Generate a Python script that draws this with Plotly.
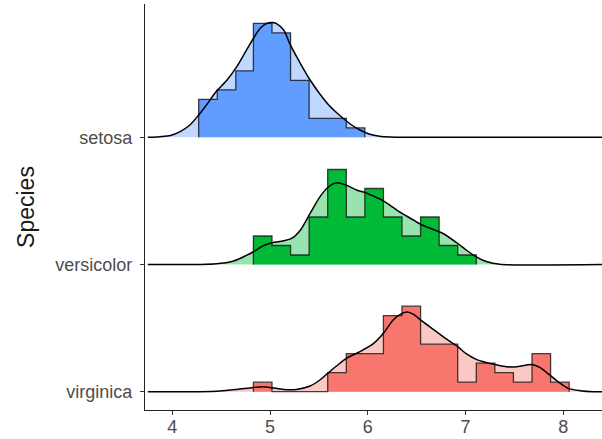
import plotly.graph_objects as go

# ---------------- data ----------------
species = ["setosa", "versicolor", "virginica"]
species_pos = [3, 2, 1]          # ridge baselines (top to bottom)

bin_edges = [4.27, 4.46, 4.65, 4.83, 5.02, 5.21, 5.40, 5.59, 5.78, 5.97,
             6.16, 6.35, 6.54, 6.73, 6.92, 7.11, 7.30, 7.49, 7.68, 7.87, 8.06]

setosa_counts = [4, 5, 7, 12, 11, 6, 2, 2, 1, 0, 0, 0, 0, 0, 0, 0, 0, 0, 0, 0]
versicolor_counts = [0, 0, 0, 3, 2, 1, 5, 10, 5, 8, 5, 3, 5, 2, 1, 0, 0, 0, 0, 0]
virginica_counts = [0, 0, 0, 1, 0, 0, 0, 2, 4, 4, 8, 9, 5, 5, 1, 3, 2, 1, 4, 1]

setosa_dx = [3.75, 3.87, 3.98, 4.08, 4.18, 4.27, 4.35, 4.45, 4.56, 4.66, 4.74, 4.83,
             4.90, 4.97, 5.03, 5.07, 5.14, 5.20, 5.31, 5.41, 5.51, 5.61, 5.72, 5.82,
             5.92, 6.02, 6.12, 6.23, 6.35, 8.40]
setosa_dy = [0, 0.07, 0.18, 0.6, 1.29, 2.35, 3.4, 4.81, 6.03, 7.44, 8.84, 10.42,
             11.47, 12.0, 12.07, 11.93, 11.29, 9.89, 7.79, 6.03, 4.56, 3.29, 2.24, 1.4,
             0.77, 0.32, 0.11, 0.03, 0, 0]

versicolor_dx = [3.75, 4.28, 4.45, 4.62, 4.73, 4.83, 4.93, 5.02, 5.14, 5.22, 5.31,
                 5.41, 5.51, 5.60, 5.68, 5.78, 5.89, 5.97, 6.06, 6.16, 6.26, 6.35,
                 6.47, 6.54, 6.67, 6.77, 6.92, 7.01, 7.11, 7.22, 7.35, 8.40]
versicolor_dy = [0, 0, 0.07, 0.35, 0.81, 1.34, 1.97, 2.28, 2.49, 2.74, 3.61,
                 5.37, 7.12, 8.18, 8.6, 8.35, 7.82, 7.58, 7.19, 6.7, 6.0, 5.37,
                 4.66, 4.24, 3.68, 3.26, 2.21, 1.5, 0.81, 0.28, 0.03, 0]

virginica_dx = [3.75, 4.28, 4.49, 4.66, 4.83, 4.93, 5.02, 5.14, 5.27, 5.41, 5.51,
                5.59, 5.68, 5.78, 5.92, 6.06, 6.16, 6.26, 6.35, 6.40, 6.47, 6.54,
                6.67, 6.81, 6.92, 7.01, 7.11, 7.22, 7.30, 7.42, 7.52, 7.68, 7.76,
                7.86, 7.97, 8.05, 8.17, 8.31, 8.40]
virginica_dy = [0, 0, 0.07, 0.24, 0.45, 0.53, 0.42, 0.24, 0.24, 0.6, 1.23,
                1.93, 2.7, 3.5, 4.21, 5.08, 6.14, 7.55, 8.24, 8.39, 8.14, 7.55,
                6.56, 5.5, 4.74, 3.97, 3.4, 3.05, 2.87, 2.63, 2.63, 2.87, 2.56,
                1.76, 0.87, 0.35, 0.11, 0, 0]

x_ticks = [4, 5, 6, 7, 8]

# ---------------- styling ----------------
colors = ["#619CFF", "#00BA38", "#F8766D"]
light = ["rgba(97,156,255,0.4)", "rgba(0,186,56,0.4)", "rgba(248,118,109,0.4)"]
height_scale = 0.0747   # y-units per count
FONT = "Liberation Sans, Arial, Helvetica, sans-serif"

counts_all = [setosa_counts, versicolor_counts, virginica_counts]
dens_x = [setosa_dx, versicolor_dx, virginica_dx]
dens_y = [setosa_dy, versicolor_dy, virginica_dy]

fig = go.Figure()

for i, sp in enumerate(species):
    base = species_pos[i]
    dx = dens_x[i]
    dy = [base + v * height_scale for v in dens_y[i]]

    # baseline helper for the density fill
    fig.add_trace(go.Scatter(x=[dx[0], dx[-1]], y=[base, base], mode="lines",
                             line=dict(width=0, color="rgba(0,0,0,0)"),
                             hoverinfo="skip", showlegend=False))
    # density fill (light)
    fig.add_trace(go.Scatter(x=dx, y=dy, mode="lines", fill="tonexty",
                             fillcolor=light[i],
                             line=dict(width=0, color="rgba(0,0,0,0)", shape="spline", smoothing=0.8),
                             hoverinfo="skip", showlegend=False))

    # histogram polygon (trim leading / trailing empty bins)
    cnt = counts_all[i]
    nz = [k for k, c in enumerate(cnt) if c > 0]
    first, last = nz[0], nz[-1]
    hx = [bin_edges[first]]
    hy = [base]
    for k in range(first, last + 1):
        hx += [bin_edges[k], bin_edges[k + 1]]
        hy += [base + cnt[k] * height_scale, base + cnt[k] * height_scale]
    hx.append(bin_edges[last + 1])
    hy.append(base)
    fig.add_trace(go.Scatter(x=hx, y=hy, mode="lines", fill="toself",
                             fillcolor=colors[i],
                             line=dict(width=1.3, color="rgba(20,20,20,0.8)"),
                             hoverinfo="skip", showlegend=False))

    # density line
    fig.add_trace(go.Scatter(x=dx, y=dy, mode="lines",
                             line=dict(width=1.5, color="black", shape="spline", smoothing=0.8),
                             hoverinfo="skip", showlegend=False))

fig.update_layout(
    width=602, height=439,
    margin=dict(l=145, r=0, t=4, b=29),
    paper_bgcolor="white", plot_bgcolor="white",
    font=dict(family=FONT, color="#4D4D4D"),
    showlegend=False,
)
fig.update_xaxes(
    range=[3.721, 8.396], tickvals=x_ticks, ticktext=[str(v) for v in x_ticks],
    showgrid=False, zeroline=False,
    showline=True, linecolor="#222222", linewidth=1.1,
    ticks="outside", ticklen=4, tickwidth=1, tickcolor="#333333",
    tickfont=dict(size=18, color="#4D4D4D", family=FONT),
    ticklabelstandoff=-4,
    automargin=False,
)
fig.update_yaxes(
    range=[0.856, 4.048], tickvals=species_pos, ticktext=species,
    showgrid=False, zeroline=False,
    showline=True, linecolor="#222222", linewidth=1.1,
    ticks="outside", ticklen=4, tickwidth=1, tickcolor="#333333",
    tickfont=dict(size=18, color="#4D4D4D", family=FONT),
    ticklabelstandoff=4,
    title=dict(text="Species", font=dict(size=23, color="#1a1a1a", family=FONT), standoff=14),
    automargin=False,
)

fig.write_html("out.html", config={"displayModeBar": False})

# remove the browser's default page margin so the figure sits at (0, 0)
with open("out.html", "r", encoding="utf-8") as f:
    html = f.read()
html = html.replace("<head>", "<head><style>html,body{margin:0;padding:0;overflow:hidden;}</style>", 1)
with open("out.html", "w", encoding="utf-8") as f:
    f.write(html)
